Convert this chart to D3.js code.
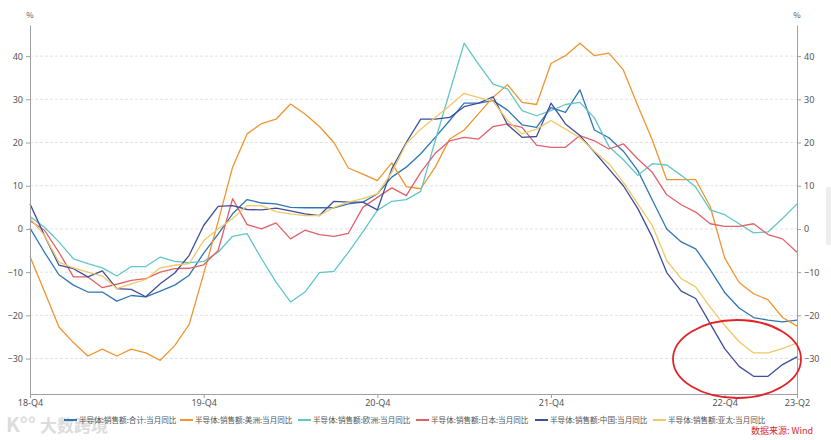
<!DOCTYPE html>
<html><head><meta charset="utf-8">
<script src="https://cdn.jsdelivr.net/npm/d3@7/dist/d3.min.js"></script>
<style>
body{margin:0;background:#fff;}
svg{display:block;font-family:"Noto Sans CJK SC","Noto Sans",sans-serif;}
</style></head><body>
<svg id="c" width="831" height="440"></svg>
<script>
const months = ["2018-12","2019-01","2019-02","2019-03","2019-04","2019-05","2019-06","2019-07","2019-08","2019-09","2019-10","2019-11",
"2019-12","2020-01","2020-02","2020-03","2020-04","2020-05","2020-06","2020-07","2020-08","2020-09","2020-10","2020-11",
"2020-12","2021-01","2021-02","2021-03","2021-04","2021-05","2021-06","2021-07","2021-08","2021-09","2021-10","2021-11",
"2021-12","2022-01","2022-02","2022-03","2022-04","2022-05","2022-06","2022-07","2022-08","2022-09","2022-10","2022-11",
"2022-12","2023-01","2023-02","2023-03","2023-04","2023-05"];
const tickMonths = ["2018-12","2019-12","2020-12","2021-12","2022-12","2023-05"];
const tickLabels = ["18-Q4","19-Q4","20-Q4","21-Q4","22-Q4","23-Q2"];
const yTicks = [-30,-20,-10,0,10,20,30,40];

const seriesNames = ["半导体:销售额:合计:当月同比","半导体:销售额:美洲:当月同比","半导体:销售额:欧洲:当月同比","半导体:销售额:日本:当月同比","半导体:销售额:中国:当月同比","半导体:销售额:亚太:当月同比"];
const total = [0.2,-5.4,-10.6,-13,-14.6,-14.6,-16.7,-15.4,-15.7,-14.4,-13,-10.7,-5.6,-1.2,3.5,6.8,6,5.8,5,4.9,4.9,4.9,5.8,6.2,8.1,12,14.3,17.4,21.2,25.1,29.1,29.1,29.7,27.5,24.1,23.5,28.1,27,32.2,22.9,21.1,18,13.5,6.7,0,-3,-4.6,-9.4,-14.7,-18.3,-20.5,-21.1,-21.5,-21.1];
const americas = [-6.4,-14.5,-22.7,-26.3,-29.4,-27.8,-29.4,-27.8,-28.7,-30.4,-27,-22.1,-10.4,1.7,14.3,22,24.4,25.4,28.9,26.6,23.7,20,14.1,12.7,11.2,15.3,9.8,9.3,14.3,20.8,22.9,26.7,30.5,33.4,29.3,28.8,38.3,40.1,43,40.1,40.7,36.8,28.5,20.6,11.4,11.4,11.4,5.2,-6.7,-12.4,-15,-16.4,-20.5,-22.5];
const europe = [2.9,0.4,-3,-6.9,-8,-9,-10.9,-8.7,-8.7,-6.5,-7.5,-7.8,-7.5,-5.4,-1.7,-1.1,-6.9,-12.3,-16.9,-14.6,-10.1,-9.8,-5.4,-0.7,4.3,6.4,6.8,8.7,20.4,31.7,43,38.1,33.5,32.4,27.4,26.2,27.4,28.8,29.3,25.7,19.1,16,12.4,15.1,14.8,12.4,9.7,4.4,3.3,1.2,-0.9,-0.7,2.4,5.8];
const japan = [1.9,-0.3,-5.4,-11.1,-11.1,-13.6,-12.8,-11.9,-11.5,-10,-9.2,-9.1,-8.3,-5,7,1,0,1.4,-2.3,-0.3,-1.3,-1.7,-1,5,7.3,9.5,7.7,13.1,17.5,20.4,21.2,20.8,23.7,24.3,23.5,19.4,18.9,18.9,21.6,20.4,18.5,19.7,16.2,13.1,7.9,5.6,3.9,1.2,0.6,0.6,1.2,-1.3,-2.3,-5.4];
const china = [5.8,-1.5,-8.4,-9.2,-11.1,-9.7,-13.8,-14,-15.7,-12.7,-10.2,-6.1,0.8,5.2,5.4,4.5,4.4,4.8,4.2,3.5,3.1,6.4,6.2,6.2,4.4,13.9,20,25.4,25.4,25.8,28.3,29.1,30.6,24.1,21.2,21.4,29.1,24.3,21.6,17.8,13.9,10,4.7,-1.9,-10.1,-14.4,-16.1,-21.9,-27.7,-31.8,-34.1,-34.1,-31.4,-29.6];
const asiaPac = [2.5,-1.5,-7.7,-9,-10,-10.9,-13.8,-12.7,-11.7,-9,-8.4,-8,-2.7,0,2.4,5.4,5.4,4,3.5,3.1,3.1,5,6.2,7,8.1,13.1,19.7,23.1,25.8,28.5,31.4,30.4,29.5,25.1,22,23.1,25.1,23.1,21.1,18,15.1,10.8,5.8,0.8,-7.3,-11.5,-13.4,-18.1,-22.3,-26.1,-28.7,-28.7,-27.7,-26.4];
const colors = ["#2f77b4","#f0952f","#62c6c6","#e2606a","#3f4e9b","#f1c865"];

const seriesValues = [total, americas, europe, japan, china, asiaPac];

const svg = d3.select("#c");
const L = 30, R = 797, T = 25, B = 394;
const x = d3.scalePoint().domain(months).range([L, R]);
const y = d3.scaleLinear().domain([-38.2, 47.2]).range([B, T]);

// gridlines
svg.append("g").selectAll("line").data(yTicks).join("line")
  .attr("x1", L).attr("x2", R).attr("y1", d => y(d)).attr("y2", d => y(d))
  .attr("stroke", "#e2e2e2").attr("stroke-dasharray", "3,2").attr("stroke-width", 1);

// lines
const line = d3.line().x((d, i) => x(months[i])).y(d => y(d));
seriesValues.forEach((vals, k) => {
  svg.append("path").datum(vals).attr("d", line)
    .attr("fill", "none").attr("stroke", colors[k]).attr("stroke-width", 1.3)
    .attr("stroke-linejoin", "round");
});

// axes
function styleAxis(g) {
  g.select(".domain").attr("stroke", "#a0a0a0");
  g.selectAll(".tick line").attr("stroke", "#a0a0a0");
  g.selectAll(".tick text").attr("fill", "#555").style("font-size", "9px")
    .style("font-family", "'Noto Sans','Noto Sans CJK SC',sans-serif");
}
const gl = svg.append("g").attr("transform", `translate(${L},0)`)
  .call(d3.axisLeft(y).tickValues(yTicks).tickSize(4).tickSizeOuter(0).tickPadding(3));
styleAxis(gl);
const gr = svg.append("g").attr("transform", `translate(${R},0)`)
  .call(d3.axisRight(y).tickValues(yTicks).tickSize(4).tickSizeOuter(0).tickPadding(3));
styleAxis(gr);
const gb = svg.append("g").attr("transform", `translate(0,${B})`)
  .call(d3.axisBottom(x).tickValues(tickMonths).tickFormat(d => tickLabels[tickMonths.indexOf(d)]).tickSize(4).tickSizeOuter(0).tickPadding(2));
styleAxis(gb);

// % units
svg.append("text").attr("x", L).attr("y", 18).attr("text-anchor", "middle")
  .attr("fill", "#555").style("font-size", "8px").text("%");
svg.append("text").attr("x", R).attr("y", 18).attr("text-anchor", "middle")
  .attr("fill", "#555").style("font-size", "8px").text("%");

// watermark
svg.append("text").attr("x", 6).attr("y", 432).attr("fill", "#dcdcdc")
  .style("font-size", "20px").style("font-weight", "bold").text("K°°");
svg.append("text").attr("x", 40).attr("y", 432).attr("fill", "#dcdcdc")
  .style("font-size", "17px").style("font-weight", "bold").text("大数跨境");

// legend
const legX = [64, 180, 298, 416, 535, 653];
seriesNames.forEach((n, k) => {
  const g = svg.append("g").attr("transform", `translate(${legX[k]},420)`);
  g.append("line").attr("x1", 0).attr("x2", 13).attr("y1", 0).attr("y2", 0)
    .attr("stroke", colors[k]).attr("stroke-width", 2);
  g.append("text").attr("x", 15).attr("y", 3).attr("fill", "#555")
    .style("font-size", "7.6px").text(n);
});

// red ellipse annotation
svg.append("ellipse").attr("cx", 737).attr("cy", 359).attr("rx", 64).attr("ry", 39)
  .attr("fill", "none").attr("stroke", "#e0242a").attr("stroke-width", 1.8);

// source
svg.append("text").attr("x", 813).attr("y", 434).attr("text-anchor", "end")
  .attr("fill", "#d8282c").style("font-size", "9px").text("数据来源: Wind");

// scrollbar hint
svg.append("rect").attr("x", 826).attr("y", 187).attr("width", 5).attr("height", 58).attr("fill", "#eeeeee");
</script></body></html>
